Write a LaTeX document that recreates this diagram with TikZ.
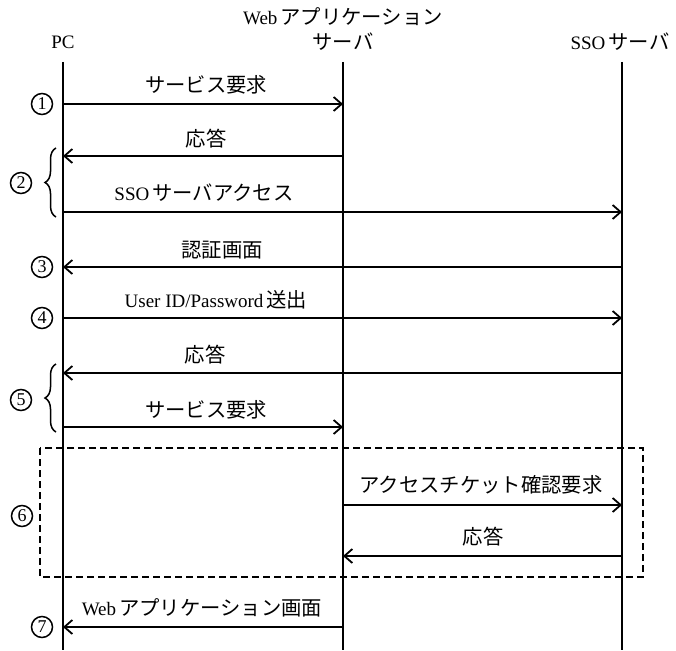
\documentclass[tikz,border=0pt]{standalone}
\usepackage{fontspec}
\setmainfont{Liberation Serif}
\newfontfamily\jp{Noto Sans CJK JP}[Scale=1.07]
\usetikzlibrary{arrows.meta,decorations.pathreplacing}
\tikzset{
  lbl/.style={font=\fontsize{19}{21}\selectfont, inner sep=1pt},
  life/.style={line width=1.4pt},
  msg/.style={line width=1.8pt, -{Straight Barb[length=8pt,width=14pt,line width=1.8pt]}},
  num/.style={circle, draw, line width=1.5pt, minimum size=21pt, inner sep=0pt, font=\fontsize{18}{18}\selectfont},
  grp/.style={decorate, decoration={brace, amplitude=11pt}, line width=1.5pt},
  box6/.style={draw, line width=1.6pt, dash pattern=on 7pt off 4pt}
}
\begin{document}
\begin{tikzpicture}[x=1pt,y=-1pt]
\useasboundingbox (0,0) rectangle (676,650);
% headers
\node[lbl] (hweb) at (343,17) {Web\,{\jp アプリケーション}};
\node[lbl] (hpc) at (63,42) {PC};
\node[lbl] (hsv) at (343,42) {\jp サーバ};
\node[lbl] (hsso) at (620,42) {SSO\,{\jp サーバ}};
% lifelines
\coordinate (pcT) at (63,62);   \coordinate (pcB) at (63,650);
\coordinate (svT) at (343,62);  \coordinate (svB) at (343,650);
\coordinate (ssT) at (622,62);  \coordinate (ssB) at (622,650);
\draw[life] (pcT) -- (pcB);
\draw[life] (svT) -- (svB);
\draw[life] (ssT) -- (ssB);
% message endpoints
\foreach \n/\y in {a/104,b/156,c/212,d/267,e/318,f/373,g/427,h/505,i/556,j/627}{
  \coordinate (pc\n) at (63,\y);
  \coordinate (sv\n) at (343,\y);
  \coordinate (ss\n) at (622,\y);
}
% 1
\draw[msg] (pca) -- (sva);
\node[lbl] (la) at (206,85) {\jp サービス要求};
\node[num] (n1) at (42,104) {1};
% 2
\draw[msg] (svb) -- (pcb);
\node[lbl] (lb) at (206,139) {\jp 応答};
\draw[msg] (pcc) -- (ssc);
\node[lbl] (lc) at (204,193) {SSO\,{\jp サーバアクセス}};
\coordinate (br2a) at (56,217); \coordinate (br2b) at (56,148);
\draw[grp] (br2a) -- (br2b);
\node[num] (n2) at (21,183) {2};
% 3
\draw[msg] (ssd) -- (pcd);
\node[lbl] (ld) at (222,250) {\jp 認証画面};
\node[num] (n3) at (42,267) {3};
% 4
\draw[msg] (pce) -- (sse);
\node[lbl] (le) at (216,300) {User ID/Password\,{\jp 送出}};
\node[num] (n4) at (42,318) {4};
% 5
\draw[msg] (ssf) -- (pcf);
\node[lbl] (lf) at (205,355) {\jp 応答};
\draw[msg] (pcg) -- (svg);
\node[lbl] (lg) at (206,410) {\jp サービス要求};
\coordinate (br5a) at (56,432); \coordinate (br5b) at (56,364);
\draw[grp] (br5a) -- (br5b);
\node[num] (n5) at (21,400) {5};
% 6
\coordinate (bx1) at (40,448); \coordinate (bx2) at (643,577);
\draw[box6] (bx1) rectangle (bx2);
\draw[msg] (svh) -- (ssh);
\node[lbl] (lh) at (481,485) {\jp アクセスチケット確認要求};
\draw[msg] (ssi) -- (svi);
\node[lbl] (li) at (483,537) {\jp 応答};
\node[num] (n6) at (22,516) {6};
% 7
\draw[msg] (svj) -- (pcj);
\node[lbl] (lj) at (202,608) {Web\,{\jp アプリケーション画面}};
\node[num] (n7) at (42,627) {7};
\end{tikzpicture}
\end{document}
